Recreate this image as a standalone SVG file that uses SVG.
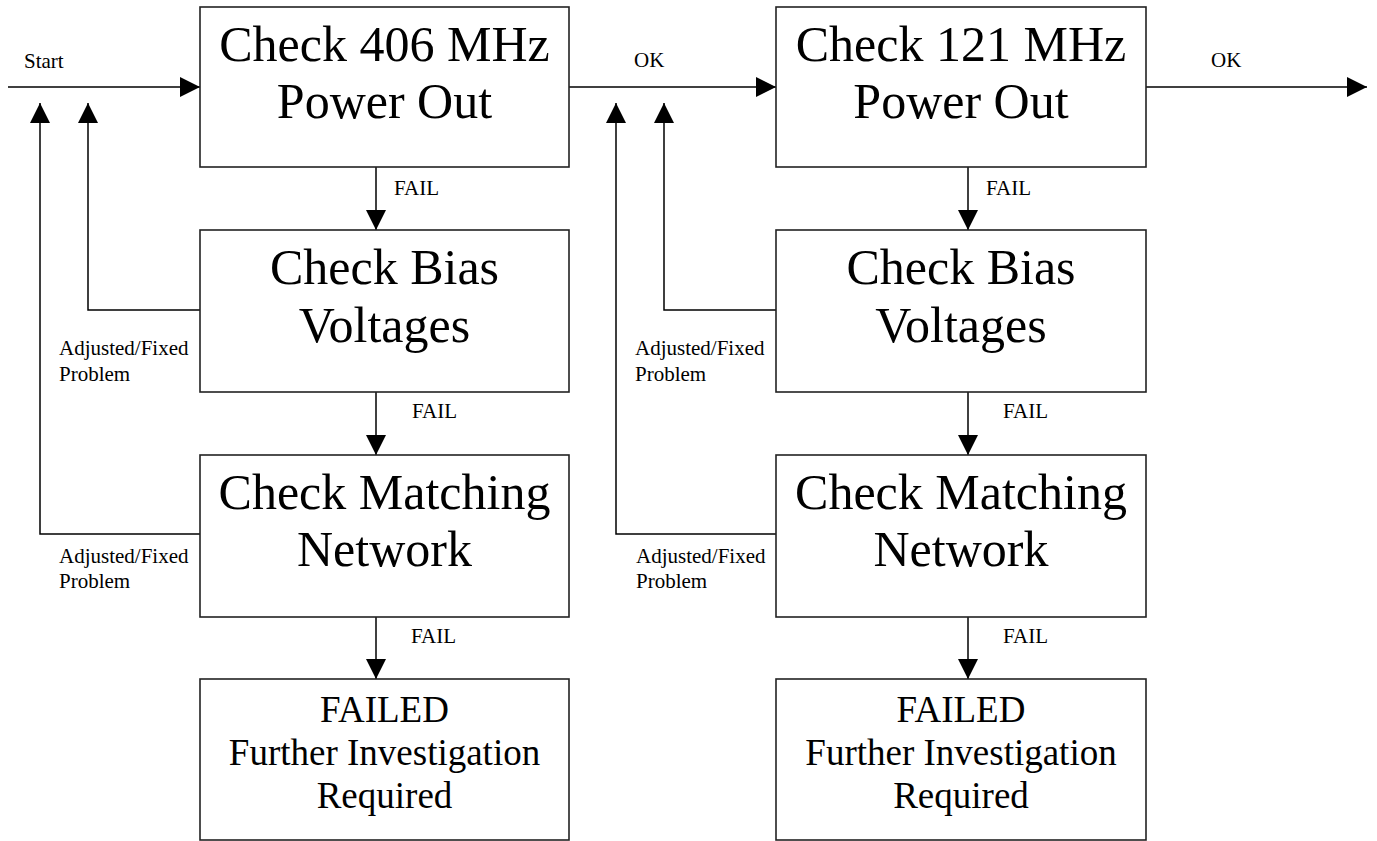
<svg xmlns="http://www.w3.org/2000/svg" width="1377" height="841" viewBox="0 0 1377 841">
<style>
  .box { fill: #fff; stroke: #222; stroke-width: 1.6; }
  .big { font-family: "Liberation Serif", "Times New Roman", serif; font-size: 50px; text-anchor: middle; fill: #000; }
  .mid { font-family: "Liberation Serif", "Times New Roman", serif; font-size: 37px; text-anchor: middle; fill: #000; }
  .lbl { font-family: "Liberation Serif", "Times New Roman", serif; font-size: 21px; fill: #000; }
  .conn path { fill: none; stroke: #000; stroke-width: 1.5; marker-end: url(#arrow); }
</style>
<defs>
  <marker id="arrow" viewBox="0 0 20 20" refX="20" refY="10" markerWidth="20" markerHeight="20" markerUnits="userSpaceOnUse" orient="auto">
    <path d="M0,0 L20,10 L0,20 z" fill="#000"/>
  </marker>
</defs>
<rect width="1377" height="841" fill="#fff"/>

<g id="connectors" class="conn">
  <path d="M8,87 H200"/>
  <path d="M569,87 H776"/>
  <path d="M1146,87 H1367"/>
  <path d="M376,167 V230"/>
  <path d="M376,392 V455"/>
  <path d="M376,617 V679"/>
  <path d="M968,167 V230"/>
  <path d="M968,392 V455"/>
  <path d="M968,617 V679"/>
  <path d="M200,310 H88 V103"/>
  <path d="M200,534 H40 V103"/>
  <path d="M776,310 H664 V103"/>
  <path d="M776,534 H616 V103"/>
</g>

<g id="labels">
  <text class="lbl" x="24" y="68">Start</text>
  <text class="lbl" x="634" y="67">OK</text>
  <text class="lbl" x="1211" y="67">OK</text>
  <text class="lbl" x="394" y="195">FAIL</text>
  <text class="lbl" x="412" y="418">FAIL</text>
  <text class="lbl" x="411" y="643">FAIL</text>
  <text class="lbl" x="986" y="195">FAIL</text>
  <text class="lbl" x="1003" y="418">FAIL</text>
  <text class="lbl" x="1003" y="643">FAIL</text>
  <text class="lbl" x="59" y="355">Adjusted/Fixed</text>
  <text class="lbl" x="59" y="381">Problem</text>
  <text class="lbl" x="59" y="563">Adjusted/Fixed</text>
  <text class="lbl" x="59" y="588">Problem</text>
  <text class="lbl" x="635" y="355">Adjusted/Fixed</text>
  <text class="lbl" x="635" y="381">Problem</text>
  <text class="lbl" x="636" y="563">Adjusted/Fixed</text>
  <text class="lbl" x="636" y="588">Problem</text>
</g>

<g id="node-check406">
  <rect class="box" x="200" y="7" width="369" height="160"/>
  <text class="big" x="384.5" y="61">Check 406 MHz</text>
  <text class="big" x="384.5" y="118">Power Out</text>
</g>
<g id="node-bias-left">
  <rect class="box" x="200" y="230" width="369" height="162"/>
  <text class="big" x="384.5" y="284">Check Bias</text>
  <text class="big" x="384.5" y="342">Voltages</text>
</g>
<g id="node-matching-left">
  <rect class="box" x="200" y="455" width="369" height="162"/>
  <text class="big" x="384.5" y="509">Check Matching</text>
  <text class="big" x="384.5" y="566">Network</text>
</g>
<g id="node-failed-left">
  <rect class="box" x="200" y="679" width="369" height="161"/>
  <text class="mid" x="384.5" y="722">FAILED</text>
  <text class="mid" x="384.5" y="765">Further Investigation</text>
  <text class="mid" x="384.5" y="808">Required</text>
</g>

<g id="node-check121">
  <rect class="box" x="776" y="7" width="370" height="160"/>
  <text class="big" x="961" y="61">Check 121 MHz</text>
  <text class="big" x="961" y="118">Power Out</text>
</g>
<g id="node-bias-right">
  <rect class="box" x="776" y="230" width="370" height="162"/>
  <text class="big" x="961" y="284">Check Bias</text>
  <text class="big" x="961" y="342">Voltages</text>
</g>
<g id="node-matching-right">
  <rect class="box" x="776" y="455" width="370" height="162"/>
  <text class="big" x="961" y="509">Check Matching</text>
  <text class="big" x="961" y="566">Network</text>
</g>
<g id="node-failed-right">
  <rect class="box" x="776" y="679" width="370" height="161"/>
  <text class="mid" x="961" y="722">FAILED</text>
  <text class="mid" x="961" y="765">Further Investigation</text>
  <text class="mid" x="961" y="808">Required</text>
</g>
</svg>
